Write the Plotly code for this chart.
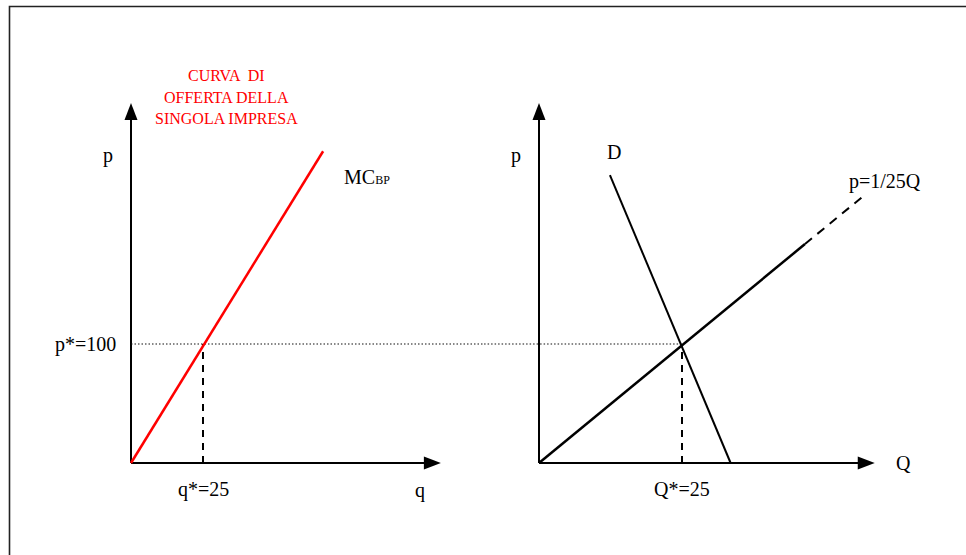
import plotly.graph_objects as go

# Equilibrium values
q_star = 25
Q_star = 25
p_star = 100

# Single firm: marginal cost curve (short-run supply)
mc_q = [0, 66.7]
mc_p = [0, 262]

# Market: supply p = 1/25 Q (solid part and dashed extension)
supply_Q = [0, 46.5]
supply_p = [0, 184]
supply_ext_Q = [46.5, 56.5]
supply_ext_p = [184, 223.5]

# Market demand D
demand_Q = [12.4, 33.5]
demand_p = [242, 0]

# Axis arrow tips (data units)
left_q_tip = 107.6
right_Q_tip = 58.7
p_tip = 302.5

W, H = 966, 555
FONT = "Liberation Serif"

fig = go.Figure()

def line(x, y, axis, color="black", width=2, dash="solid"):
    fig.add_trace(go.Scatter(
        x=x, y=y, mode="lines", xaxis=axis[0], yaxis=axis[1],
        line=dict(color=color, width=width, dash=dash),
        hoverinfo="skip", showlegend=False,
    ))

L = ("x", "y")
R = ("x2", "y2")

# axes (lines stop at the arrowhead base)
line([0, 0], [0, p_tip - 12], L)
line([0, left_q_tip - 4], [0, 0], L)
line([0, 0], [0, p_tip - 12], R)
line([0, right_Q_tip - 2], [0, 0], R)

# guide lines at the equilibrium
line([0, 200], [p_star, p_star], L, color="#111111", width=1.2, dash="1.5px,2px")
line([-20, Q_star], [p_star, p_star], R, color="#111111", width=1.2, dash="1.5px,2px")
line([q_star, q_star], [0, p_star], L, width=2, dash="7px,6px")
line([Q_star, Q_star], [0, p_star], R, width=2, dash="7px,6px")

# curves
line(mc_q, mc_p, L, color="#ff0000", width=2.5)
line(supply_Q, supply_p, R, width=2.5)
line(supply_ext_Q, supply_ext_p, R, width=2, dash="9px,7px")
line(demand_Q, demand_p, R, width=2)

shapes = []

def arrow_head(xref, yref, x, y, direction):
    if direction == "up":
        path = "M 0 0 L -6.5 -17 L 6.5 -17 Z"
    else:
        path = "M 0 0 L -17 6.5 L -17 -6.5 Z"
    shapes.append(dict(
        type="path", xref=xref, yref=yref,
        xsizemode="pixel", ysizemode="pixel",
        xanchor=x, yanchor=y, path=path,
        fillcolor="black", line=dict(color="black", width=0),
    ))

arrow_head("x", "y", 0, p_tip, "up")
arrow_head("x", "y", left_q_tip, 0, "right")
arrow_head("x2", "y2", 0, p_tip, "up")
arrow_head("x2", "y2", right_Q_tip, 0, "right")

# page frame: left and top edges only
fx = 9.5 / W
fy = 1 - 6.5 / H
shapes.append(dict(
    type="path", xref="paper", yref="paper",
    path=f"M {fx} -0.1 L {fx} {fy} L 1.3 {fy}",
    line=dict(color="#222222", width=1.6),
))


def py(v):
    return 1 - v / H


def px(v):
    return v / W


annotations = []


def label(text, x, y, xref="paper", size=20, color="black", xanchor="center"):
    annotations.append(dict(
        text=text, x=x, y=y, xref=xref, yref="paper",
        xanchor=xanchor, yanchor="middle", showarrow=False,
        font=dict(family=FONT, size=size, color=color),
    ))


label("p", px(108), py(155))
label("p", px(516), py(155))
label("p*=100", px(118), py(344), xanchor="right")
label("q*=25", q_star, py(489), xref="x")
label("Q*=25", Q_star, py(489), xref="x2")
label("q", px(420), py(490))
label("Q", px(903), py(463))
label("D", px(614), py(152))
label("p=1/25Q", px(885), py(181))
label("MC<span style='font-size:12px'>BP</span>", px(342), py(177), xanchor="left")
label("CURVA  DI", px(226), py(76), size=16, color="#ff0000")
label("OFFERTA DELLA", px(226), py(98), size=16, color="#ff0000")
label("SINGOLA IMPRESA", px(226), py(118.5), size=16, color="#ff0000")

# axis ranges chosen so that both panels share the price scale
x_left_range = [-131 / 2.88, -131 / 2.88 + 483 / 2.88]
x_right_range = [-56 / 5.72, -56 / 5.72 + 483 / 5.72]
y_range = [-92 / 1.19, -92 / 1.19 + H / 1.19]

hidden = dict(visible=False, showgrid=False, zeroline=False, fixedrange=True)

fig.update_layout(
    width=W, height=H, autosize=False,
    margin=dict(l=0, r=0, t=0, b=0),
    paper_bgcolor="white", plot_bgcolor="white",
    showlegend=False,
    xaxis=dict(domain=[0, 0.5], range=x_left_range, **hidden),
    xaxis2=dict(domain=[0.5, 1], range=x_right_range, **hidden),
    yaxis=dict(domain=[0, 1], range=y_range, **hidden),
    yaxis2=dict(domain=[0, 1], range=y_range, anchor="x2", **hidden),
    shapes=shapes,
    annotations=annotations,
)

fig.write_html("out.html", config=dict(displayModeBar=False))
